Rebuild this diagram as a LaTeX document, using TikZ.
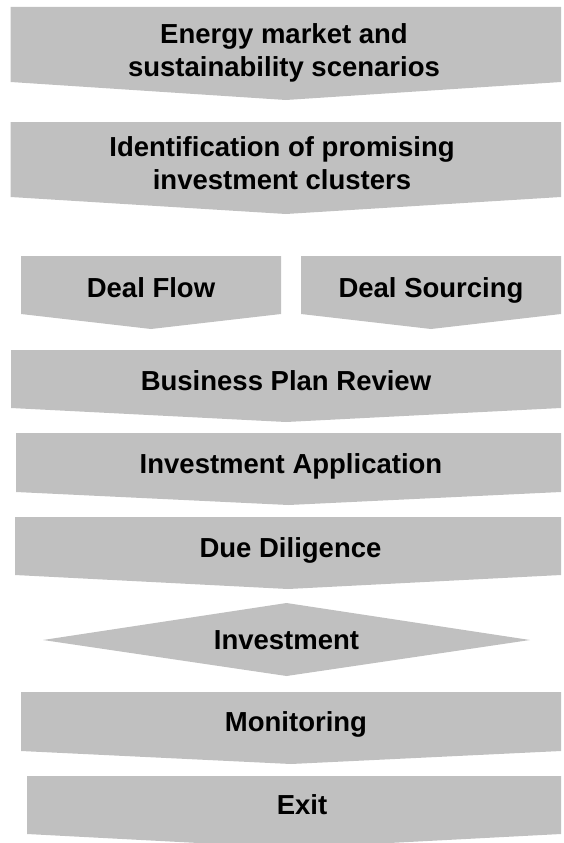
\documentclass[tikz,border=0pt]{standalone}
\usepackage{fontspec}
\setmainfont{Liberation Sans}
\usepackage{tikz}
\usetikzlibrary{calc}

\definecolor{stepgray}{RGB}{192,192,192}
\tikzstyle{steptext} = [font=\bfseries\fontsize{27.5}{33}\selectfont, text=black, align=center, text depth=0pt, inner sep=0pt]

% grey block with a shallow point at the bottom
% #1 name, #2 left, #3 right, #4 top, #5 side bottom, #6 point depth, #7 text position, #8 text
\newcommand{\stepchevron}[8]{%
  \fill[stepgray] (#2,-#4) -- (#3,-#4) -- (#3,-#5) -- ({(#2+#3)/2},{-#5-#6}) -- (#2,-#5) -- cycle;
  \node[steptext] (#1) at (#7) {#8};
}

\begin{document}
\begin{tikzpicture}[x=1pt, y=1pt]
\useasboundingbox (0,0) rectangle (563,-843);
\clip (0,0) rectangle (563,-843);

\stepchevron{scenarios}{10.7}{561}{7}{82}{18}{284,-50}{Energy market and\\sustainability scenarios}
\stepchevron{clusters}{10.7}{561}{122}{197}{17}{282,-163}{Identification of promising\\investment clusters}
\stepchevron{flow}{21}{281}{256}{314}{15}{151,-288}{Deal Flow}
\stepchevron{sourcing}{301}{561}{256}{314}{15}{431,-288}{Deal Sourcing}
\stepchevron{review}{11}{561}{350}{408}{14}{286,-381}{Business Plan Review}
\stepchevron{application}{16}{561}{433}{492}{13}{291,-464}{Investment Application}
\stepchevron{diligence}{15}{561}{517}{575}{14}{290.5,-548}{Due Diligence}

% decision point
\fill[stepgray] (43,-640) -- (286.5,-603) -- (530,-640) -- (286.5,-676) -- cycle;
\node[steptext] (investment) at (286.5,-640) {Investment};

\stepchevron{monitoring}{21}{561}{692}{751}{13}{296,-722}{Monitoring}
\stepchevron{exit}{27}{561}{776}{834}{14}{302,-805}{Exit}
\end{tikzpicture}
\end{document}
